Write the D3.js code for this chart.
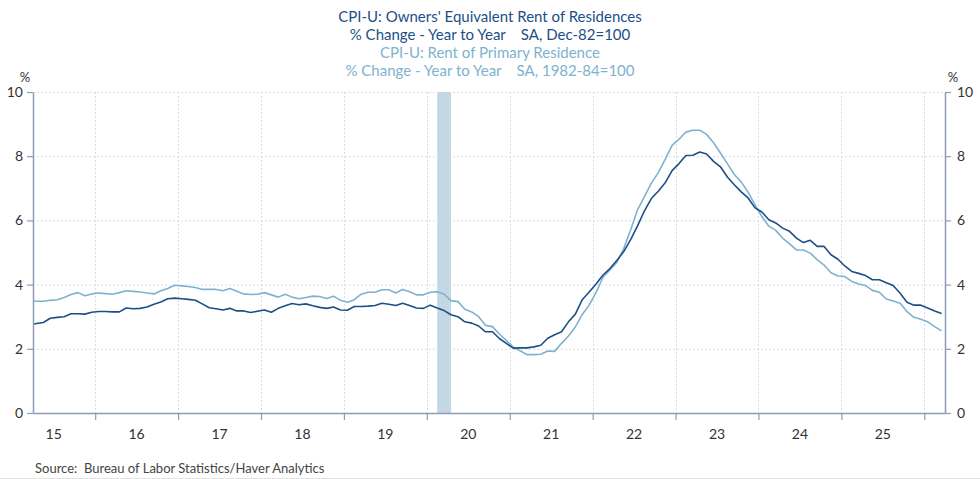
<!DOCTYPE html>
<html>
<head>
<meta charset="utf-8">
<script src="https://cdn.jsdelivr.net/npm/d3@7"></script>
<style>
  body { margin: 0; background: #fff; }
  svg { display: block; font-family: Lato, 'Open Sans', sans-serif; }
</style>
</head>
<body>
<svg id="chart" width="980" height="479"></svg>
<script>
// monthly, first point = Mar 2015 (plotted mid-month)
const firstMonth = 2015 + 2 / 12 + 1 / 24;

const oer = [
  2.74, 2.79, 2.82, 2.95, 2.98, 3.00, 3.09, 3.09, 3.08, 3.14,
  3.16, 3.16, 3.15, 3.15, 3.27, 3.25, 3.26, 3.30, 3.39, 3.46,
  3.56, 3.58, 3.56, 3.54, 3.51, 3.40, 3.28, 3.25, 3.21, 3.26,
  3.18, 3.18, 3.13, 3.17, 3.21, 3.14, 3.26, 3.34, 3.41, 3.37,
  3.40, 3.34, 3.29, 3.26, 3.30, 3.21, 3.20, 3.32, 3.32, 3.33,
  3.35, 3.42, 3.39, 3.35, 3.42, 3.35, 3.27, 3.26, 3.36, 3.27,
  3.19, 3.06, 3.00, 2.84, 2.80, 2.71, 2.53, 2.53, 2.32, 2.17,
  2.02, 2.03, 2.03, 2.06, 2.11, 2.33, 2.44, 2.53, 2.84, 3.08,
  3.53, 3.77, 4.02, 4.30, 4.50, 4.75, 5.03, 5.40, 5.83, 6.30,
  6.68, 6.91, 7.17, 7.55, 7.77, 8.02, 8.03, 8.13, 8.07, 7.84,
  7.67, 7.35, 7.11, 6.89, 6.70, 6.39, 6.26, 6.02, 5.92, 5.76,
  5.66, 5.45, 5.31, 5.38, 5.19, 5.19, 4.93, 4.79, 4.58, 4.41,
  4.35, 4.28, 4.15, 4.15, 4.06, 3.97, 3.73, 3.45, 3.36, 3.36,
  3.27, 3.18, 3.10
];

const rent = [
  3.51, 3.48, 3.48, 3.51, 3.53, 3.60, 3.69, 3.75, 3.65, 3.71,
  3.74, 3.72, 3.70, 3.75, 3.81, 3.79, 3.77, 3.74, 3.71, 3.81,
  3.88, 3.98, 3.96, 3.94, 3.91, 3.85, 3.85, 3.85, 3.81, 3.88,
  3.79, 3.71, 3.69, 3.70, 3.75, 3.68, 3.61, 3.70, 3.61, 3.56,
  3.60, 3.64, 3.63, 3.57, 3.64, 3.51, 3.45, 3.53, 3.70, 3.76,
  3.76, 3.84, 3.84, 3.74, 3.85, 3.78, 3.68, 3.68, 3.76, 3.78,
  3.70, 3.50, 3.47, 3.23, 3.15, 3.00, 2.73, 2.69, 2.46, 2.26,
  2.05, 1.94, 1.82, 1.82, 1.83, 1.93, 1.92, 2.17, 2.40, 2.68,
  3.07, 3.36, 3.76, 4.23, 4.46, 4.69, 5.12, 5.70, 6.33, 6.74,
  7.16, 7.49, 7.90, 8.34, 8.53, 8.75, 8.81, 8.81, 8.68, 8.42,
  8.10, 7.77, 7.43, 7.20, 6.88, 6.48, 6.12, 5.82, 5.69, 5.45,
  5.27, 5.08, 5.08, 4.98, 4.78, 4.61, 4.37, 4.27, 4.25, 4.10,
  4.02, 3.97, 3.82, 3.76, 3.55, 3.49, 3.42, 3.16, 2.98, 2.92,
  2.84, 2.69, 2.56
];

const yearTicks = [2016, 2017, 2018, 2019, 2020, 2021, 2022, 2023, 2024, 2025, 2026];
const yearLabels = ['15', '16', '17', '18', '19', '20', '21', '22', '23', '24', '25'];
const yTicks = [0, 2, 4, 6, 8, 10];
const recession = [2020 + 1 / 12 + 1 / 24, 2020 + 3 / 12 + 1 / 24];

const titles = [
  {text: "CPI-U: Owners' Equivalent Rent of Residences", dark: true},
  {text: "% Change - Year to Year\u00a0\u00a0\u00a0\u00a0SA, Dec-82=100", dark: true},
  {text: 'CPI-U: Rent of Primary Residence', dark: false},
  {text: '% Change - Year to Year\u00a0\u00a0\u00a0\u00a0SA, 1982-84=100', dark: false}
];

const darkBlue = '#1c4f87', lightBlue = '#7eb2cf', axisCol = '#8d9db3';

const svg = d3.select('#chart');
const margin = {left: 33, right: 35, top: 92, bottom: 66};
const W = 980, H = 479;

const x = d3.scaleLinear().domain([2015.25, 2026.25]).range([margin.left, W - margin.right]);
const y = d3.scaleLinear().domain([0, 10]).range([H - margin.bottom, margin.top]);

// titles
svg.append('g').selectAll('text')
  .data(titles).enter().append('text')
  .attr('x', 490)
  .attr('y', (d, i) => 22 + i * 18)
  .attr('text-anchor', 'middle')
  .style('font-size', '15px')
  .style('fill', d => d.dark ? darkBlue : lightBlue)
  .text(d => d.text);

// grid
const grid = svg.append('g').attr('stroke', '#d9dde3').attr('stroke-dasharray', '2,2').attr('stroke-width', 1);
grid.selectAll('line.h').data(yTicks.slice(1)).enter().append('line')
  .attr('x1', x.range()[0]).attr('x2', x.range()[1])
  .attr('y1', d => y(d) + 0.5).attr('y2', d => y(d) + 0.5);
grid.selectAll('line.v').data(yearTicks.filter(t => x(t) < x.range()[1] - 5)).enter().append('line')
  .attr('y1', y(10)).attr('y2', y(0))
  .attr('x1', d => Math.round(x(d)) + 0.5).attr('x2', d => Math.round(x(d)) + 0.5);

// recession bar
svg.append('rect')
  .attr('x', x(recession[0])).attr('width', x(recession[1]) - x(recession[0]))
  .attr('y', y(10)).attr('height', y(0) - y(10))
  .attr('fill', '#c4d8e3');

// lines
svg.append('clipPath').attr('id', 'plot').append('rect')
  .attr('x', x.range()[0]).attr('y', y(10)).attr('width', x.range()[1] - x.range()[0]).attr('height', y(0) - y(10));

const line = d3.line().x((d, i) => x(firstMonth + i / 12)).y(d => y(d));
[[rent, lightBlue], [oer, darkBlue]].forEach(([s, c]) => {
  svg.append('path').datum(s)
    .attr('clip-path', 'url(#plot)')
    .attr('fill', 'none').attr('stroke', c).attr('stroke-width', 1.6)
    .attr('stroke-linejoin', 'round')
    .attr('d', line);
});

// axes
const styleAxis = g => {
  g.select('.domain').attr('stroke', axisCol).attr('stroke-width', 1.5);
  g.selectAll('.tick line').attr('stroke', axisCol).attr('stroke-width', 1.2);
  g.selectAll('.tick text').attr('fill', '#333').style('font-size', '14px').style('font-family', 'Lato, sans-serif');
};

svg.append('g').attr('transform', `translate(${margin.left},0)`)
  .call(d3.axisLeft(y).tickValues(yTicks).tickSize(6).tickSizeOuter(0).tickPadding(4))
  .call(styleAxis);
svg.append('g').attr('transform', `translate(${W - margin.right},0)`)
  .call(d3.axisRight(y).tickValues(yTicks).tickSize(6).tickSizeOuter(0).tickPadding(6))
  .call(styleAxis);

const xAxis = svg.append('g').attr('transform', `translate(0,${y(0)})`)
  .call(d3.axisBottom(x).tickValues(yearTicks).tickSize(7).tickSizeOuter(0).tickFormat(''))
  .call(styleAxis);

svg.append('g').selectAll('text')
  .data(yearLabels).enter().append('text')
  .attr('x', (d, i) => x(yearTicks[i] - 0.5))
  .attr('y', y(0) + 26)
  .attr('text-anchor', 'middle')
  .style('font-size', '14px').style('fill', '#333')
  .text(d => d);

// % unit labels
svg.append('text').attr('x', 25).attr('y', 82).attr('text-anchor', 'middle')
  .style('font-size', '13px').style('fill', '#333').text('%');
svg.append('text').attr('x', 953).attr('y', 82).attr('text-anchor', 'middle')
  .style('font-size', '13px').style('fill', '#333').text('%');

// source
svg.append('text').attr('x', 35).attr('y', 473)
  .style('font-size', '13px').style('fill', '#444')
  .text('Source:\u00a0\u00a0Bureau of Labor Statistics/Haver Analytics');

svg.append('line').attr('x1', 0).attr('x2', W).attr('y1', 478.5).attr('y2', 478.5)
  .attr('stroke', '#e2e2e2');
</script>
</body>
</html>
